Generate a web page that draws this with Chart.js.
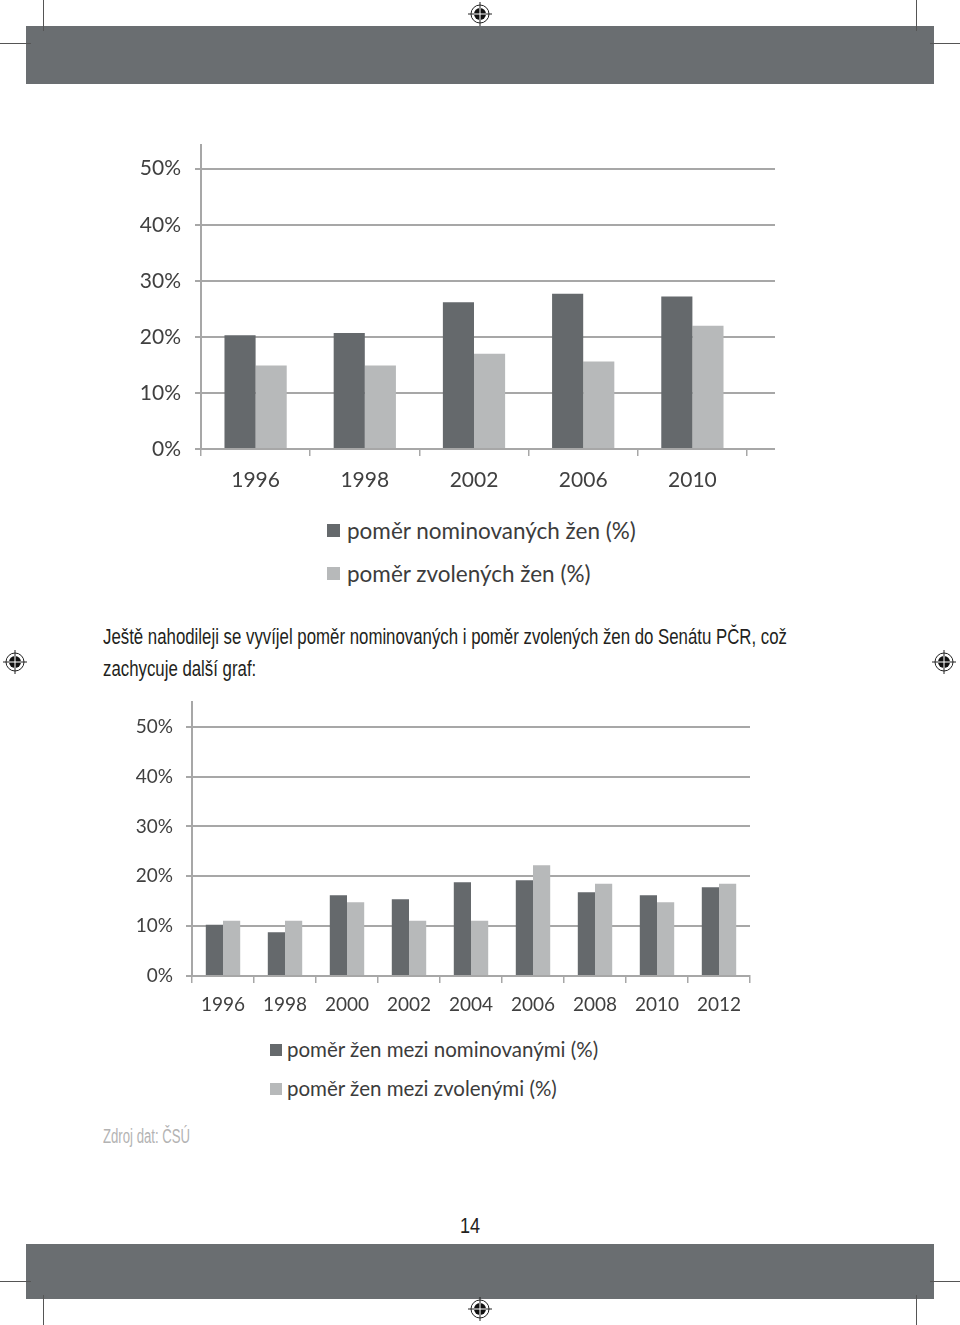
<!DOCTYPE html>
<html>
<head>
<meta charset="utf-8">
<script src="https://cdn.jsdelivr.net/npm/chart.js@4/dist/chart.umd.min.js"></script>
<style>
  html, body { margin: 0; padding: 0; background: #fff; }
  body { width: 960px; height: 1325px; position: relative; overflow: hidden; }
  .band { position: absolute; left: 26px; width: 908px; background: #6a6e71; }
  .line { position: absolute; background: #555; }
  .box { position: absolute; }
  .txt { position: absolute; font-family: "Liberation Sans", Arial, sans-serif; color: #231f20; font-size: 22px; line-height: 25px; white-space: nowrap; transform-origin: 0 0; }
  .legend { position: absolute; font-family: Lato, "Open Sans", sans-serif; color: #3c3c3c; }
  .legend div { position: relative; white-space: nowrap; }
  .legend span.sw { position: absolute; left: 0; }
  .reg { position: absolute; }
</style>
</head>
<body>

<!-- page furniture -->
<div class="band" style="top:26px;height:58px"></div>
<div class="band" style="top:1244px;height:55px"></div>
<div class="line" style="left:43px;top:0;width:1px;height:31px"></div>
<div class="line" style="left:916px;top:0;width:1px;height:31px"></div>
<div class="line" style="left:0;top:43px;width:31px;height:1px"></div>
<div class="line" style="left:930px;top:43px;width:30px;height:1px"></div>
<div class="line" style="left:43px;top:1295px;width:1px;height:30px"></div>
<div class="line" style="left:916px;top:1295px;width:1px;height:30px"></div>
<div class="line" style="left:0;top:1281px;width:31px;height:1px"></div>
<div class="line" style="left:930px;top:1281px;width:30px;height:1px"></div>

<svg class="reg" style="left:467px;top:1px" width="26" height="26" id="r1"></svg>
<svg class="reg" style="left:2px;top:649px" width="26" height="26" id="r2"></svg>
<svg class="reg" style="left:931px;top:649px" width="26" height="26" id="r3"></svg>
<svg class="reg" style="left:467px;top:1296px" width="26" height="26" id="r4"></svg>

<!-- chart 1 -->
<div class="box" style="left:100px;top:118px;width:700px;height:382px">
  <canvas id="chart1"></canvas>
</div>
<div class="legend" id="legend1" style="left:327px;top:509px;font-size:22.5px"></div>

<div class="txt" data-w="684" style="left:103px;top:624px">Ještě nahodileji se vyvíjel poměr nominovaných i poměr zvolených žen do Senátu PČR, což</div>
<div class="txt" data-ref="0" style="left:103px;top:656px">zachycuje další graf:</div>

<!-- chart 2 -->
<div class="box" style="left:100px;top:678px;width:700px;height:352px">
  <canvas id="chart2"></canvas>
</div>
<div class="legend" id="legend2" style="left:270px;top:1030px;font-size:20.5px"></div>

<div class="txt" data-w="87" style="left:103px;top:1124px;color:#b3b3b3;font-size:20px">Zdroj dat: ČSÚ</div>
<div class="txt" style="left:460px;top:1213px;font-size:22px;transform:scaleX(0.82)">14</div>

<script>
// data - chart 1 (Senate: nominated vs elected women)
const years1 = ['1996', '1998', '2002', '2006', '2010'];
const nominated1 = [20.3, 20.7, 26.2, 27.7, 27.2];
const elected1 = [14.9, 14.9, 17.0, 15.6, 22.0];
const legend1 = ['poměr nominovaných žen (%)', 'poměr zvolených žen (%)'];

// data - chart 2
const years2 = ['1996', '1998', '2000', '2002', '2004', '2006', '2008', '2010', '2012'];
const nominated2 = [10.3, 8.8, 16.2, 15.4, 18.8, 19.2, 16.8, 16.2, 17.8];
const elected2 = [11.1, 11.1, 14.8, 11.1, 11.1, 22.2, 18.5, 14.8, 18.5];
const legend2 = ['poměr žen mezi nominovanými (%)', 'poměr žen mezi zvolenými (%)'];

const yTicks = [0, 10, 20, 30, 40, 50];

const darkBar = '#65696c';
const lightBar = '#b7b9ba';
const gridCol = '#a7a7a7';

// condensed body text: squeeze Liberation Sans to the printed width
let bodyScale = 1;
document.querySelectorAll('.txt[data-w]').forEach((el) => {
  const k = +el.dataset.w / el.getBoundingClientRect().width;
  el.style.transform = 'scaleX(' + k + ')';
  if (bodyScale === 1) bodyScale = k;
});
document.querySelectorAll('.txt[data-ref]').forEach((el) => {
  el.style.transform = 'scaleX(' + bodyScale + ')';
});

// registration marks
['r1', 'r2', 'r3', 'r4'].forEach((id) => {
  document.getElementById(id).innerHTML =
    '<circle cx="13" cy="13" r="9" fill="none" stroke="#222" stroke-width="1"/>' +
    '<circle cx="13" cy="13" r="6" fill="#111"/>' +
    '<line x1="13" y1="1" x2="13" y2="25" stroke="#222" stroke-width="1"/>' +
    '<line x1="1" y1="13" x2="25" y2="13" stroke="#222" stroke-width="1"/>' +
    '<line x1="7" y1="13" x2="19" y2="13" stroke="#fff" stroke-width="1"/>' +
    '<line x1="13" y1="7" x2="13" y2="19" stroke="#fff" stroke-width="1"/>';
});

// gridlines run a bit past the last category in the first chart
const gridExtend = {
  id: 'gridExtend',
  beforeDatasetsDraw(chart, args, opts) {
    if (!opts.length) return;
    const y = chart.scales.y;
    const ctx = chart.ctx;
    const right = chart.chartArea.right;
    ctx.save();
    ctx.strokeStyle = gridCol;
    ctx.lineWidth = 2;
    yTicks.forEach((v) => {
      const py = Math.round(y.getPixelForValue(v));
      ctx.beginPath();
      ctx.moveTo(right - 2, py);
      ctx.lineTo(right + opts.length, py);
      ctx.stroke();
    });
    ctx.restore();
  }
};

function makeLegend(elId, labels, sw) {
  const el = document.getElementById(elId);
  const colors = [darkBar, lightBar];
  labels.forEach((lab, i) => {
    const row = document.createElement('div');
    row.style.height = sw.rowH + 'px';
    row.style.lineHeight = sw.rowH + 'px';
    row.style.paddingLeft = sw.textX + 'px';
    row.innerHTML = '<span class="sw" style="top:' + sw.top + 'px;width:' + sw.size + 'px;height:' + sw.size +
      'px;background:' + colors[i] + '"></span>' + lab;
    el.appendChild(row);
  });
}

function makeChart(id, labels, nom, ele, cfg) {
  return new Chart(document.getElementById(id), {
    type: 'bar',
    data: {
      labels: labels,
      datasets: [
        { label: 'nom', data: nom, backgroundColor: darkBar },
        { label: 'ele', data: ele, backgroundColor: lightBar }
      ]
    },
    plugins: [gridExtend],
    options: {
      responsive: true,
      maintainAspectRatio: false,
      animation: false,
      events: [],
      layout: { padding: { top: cfg.padTop, right: cfg.padRight, left: 0, bottom: 0 } },
      datasets: { bar: { categoryPercentage: cfg.catPct, barPercentage: 1 } },
      plugins: {
        legend: { display: false },
        tooltip: { enabled: false },
        gridExtend: { length: cfg.extend }
      },
      scales: {
        x: {
          grid: { display: true, drawOnChartArea: false, drawTicks: true, tickLength: 7, color: gridCol, lineWidth: 1.5 },
          border: { display: true, color: gridCol, width: 2 },
          ticks: { color: '#404040', padding: cfg.xPad, font: { family: 'Lato', size: cfg.fontSize }, maxRotation: 0 },
          afterFit: (s) => { s.height = cfg.xHeight; }
        },
        y: {
          min: 0,
          max: cfg.yMax,
          afterBuildTicks: (s) => { s.ticks = yTicks.map((v) => ({ value: v })); },
          grid: { color: gridCol, lineWidth: 2, tickLength: 6 },
          border: { display: true, color: gridCol, width: 2 },
          ticks: {
            color: '#404040',
            padding: cfg.yPad,
            font: { family: 'Lato', size: cfg.fontSize },
            callback: (v) => v + '%'
          },
          afterFit: (s) => { s.width = cfg.yWidth; }
        }
      }
    }
  });
}

makeChart('chart1', years1, nominated1, elected1, {
  padTop: 1, padRight: 53, xHeight: 51, yWidth: 101, yMax: 54.3,
  catPct: 0.57, fontSize: 21, yPad: 14, xPad: 12, extend: 28
});
makeChart('chart2', years2, nominated2, elected2, {
  padTop: 0, padRight: 50, xHeight: 54, yWidth: 92, yMax: 54.9,
  catPct: 0.555, fontSize: 19, yPad: 13, xPad: 10, extend: 0
});

makeLegend('legend1', legend1, { rowH: 43, textX: 20, top: 15, size: 13 });
makeLegend('legend2', legend2, { rowH: 39, textX: 17, top: 14, size: 12 });
</script>
</body>
</html>
